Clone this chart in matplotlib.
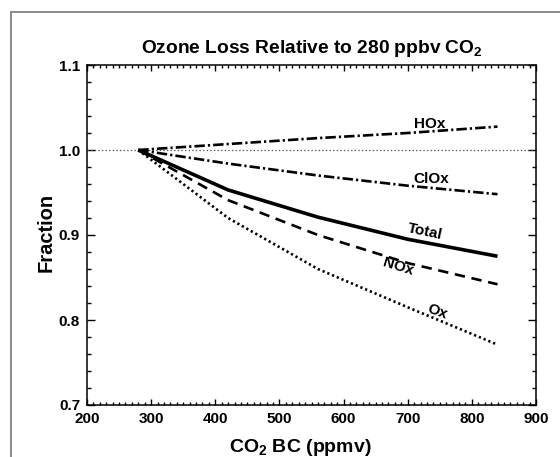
import matplotlib
matplotlib.use("Agg")
import matplotlib.pyplot as plt
from matplotlib.patches import Rectangle
from matplotlib.ticker import MultipleLocator

plt.rcParams['font.family'] = ['Liberation Sans', 'DejaVu Sans']
plt.rcParams['font.weight'] = 'bold'
plt.rcParams['mathtext.default'] = 'regular'
plt.rcParams['lines.scale_dashes'] = False

# Data
co2 = [280, 420, 560, 700, 840]
total = [1.0, 0.953, 0.921, 0.895, 0.875]
nox = [1.0, 0.941, 0.900, 0.867, 0.842]
ox = [1.0, 0.920, 0.860, 0.815, 0.771]
clox = [1.0, 0.984, 0.970, 0.958, 0.948]
hox = [1.0, 1.007, 1.014, 1.020, 1.0275]

xticks = [200, 300, 400, 500, 600, 700, 800, 900]
yticks = [0.7, 0.8, 0.9, 1.0, 1.1]

W, H = 560, 457
fig = plt.figure(figsize=(W / 100, H / 100), dpi=100)
ax = fig.add_axes([87 / W, 1 - 405 / H, (536 - 87) / W, (405 - 65) / H])

# frame border of the image
fig.patches.append(Rectangle((10.7 / W, -0.1), 1.2, 1 - 12.3 / H + 0.1,
                             transform=fig.transFigure, fill=False,
                             edgecolor='#8a8a8a', linewidth=1.4))

ax.axhline(1.0, color='#555555', lw=0.9, linestyle=(0, (1.0, 1.6)))

ax.plot(co2, total, color='black', lw=2.6, solid_capstyle='butt')
ax.plot(co2, nox, color='black', lw=1.9, linestyle=(0, (7.5, 4.8)))
ax.plot(co2, ox, color='black', lw=1.9, linestyle=(0, (1.6, 2.1)))
ax.plot(co2, clox, color='black', lw=1.9, linestyle=(0, (7.5, 2.2, 1.6, 2.2)))
ax.plot(co2, hox, color='black', lw=1.9, linestyle=(0, (7.5, 2.2, 1.6, 2.2)))

lab = dict(fontsize=11, fontweight='bold', ha='center', va='center')
ax.text(734, 1.0302, 'HOx', **lab)
ax.text(737, 0.9655, 'ClOx', **lab)
ax.text(727, 0.904, 'Total', rotation=-12, **lab)
ax.text(685, 0.863, 'NOx', rotation=-17, **lab)
ax.text(746, 0.810, 'Ox', rotation=-20, **lab)

ax.set_xlim(200, 900)
ax.set_ylim(0.7, 1.1)
ax.set_xticks(xticks)
ax.set_xticklabels([str(v) for v in xticks])
ax.set_yticks(yticks)
ax.set_yticklabels([f"{v:.1f}" for v in yticks])
ax.xaxis.set_minor_locator(MultipleLocator(10))
ax.yaxis.set_minor_locator(MultipleLocator(0.02))
ax.tick_params(which='both', direction='in', top=True, right=True,
               labelsize=11, width=1.0, pad=5)
ax.tick_params(axis='x', which='major', length=4.5)
ax.tick_params(axis='x', which='minor', length=2.3)
ax.tick_params(axis='y', which='major', length=6)
ax.tick_params(axis='y', which='minor', length=3)
for lbl in ax.get_xticklabels() + ax.get_yticklabels():
    lbl.set_fontweight('bold')
for s in ax.spines.values():
    s.set_linewidth(1.1)

ax.set_title('Ozone Loss Relative to 280 ppbv CO$_2$', fontsize=13.8,
             fontweight='bold', pad=8.5)
ax.set_xlabel('CO$_2$ BC (ppmv)', fontsize=14, fontweight='bold')
ax.xaxis.set_label_coords((300 - 87) / 449, (405 - 448) / 340)
ax.xaxis.label.set_va('center')
ax.set_ylabel('Fraction', fontsize=14.5, fontweight='bold')
ax.yaxis.set_label_coords((46 - 87) / 449, (405 - 232) / 340)
ax.yaxis.label.set_va('center')

fig.savefig('out.png', dpi=100)
